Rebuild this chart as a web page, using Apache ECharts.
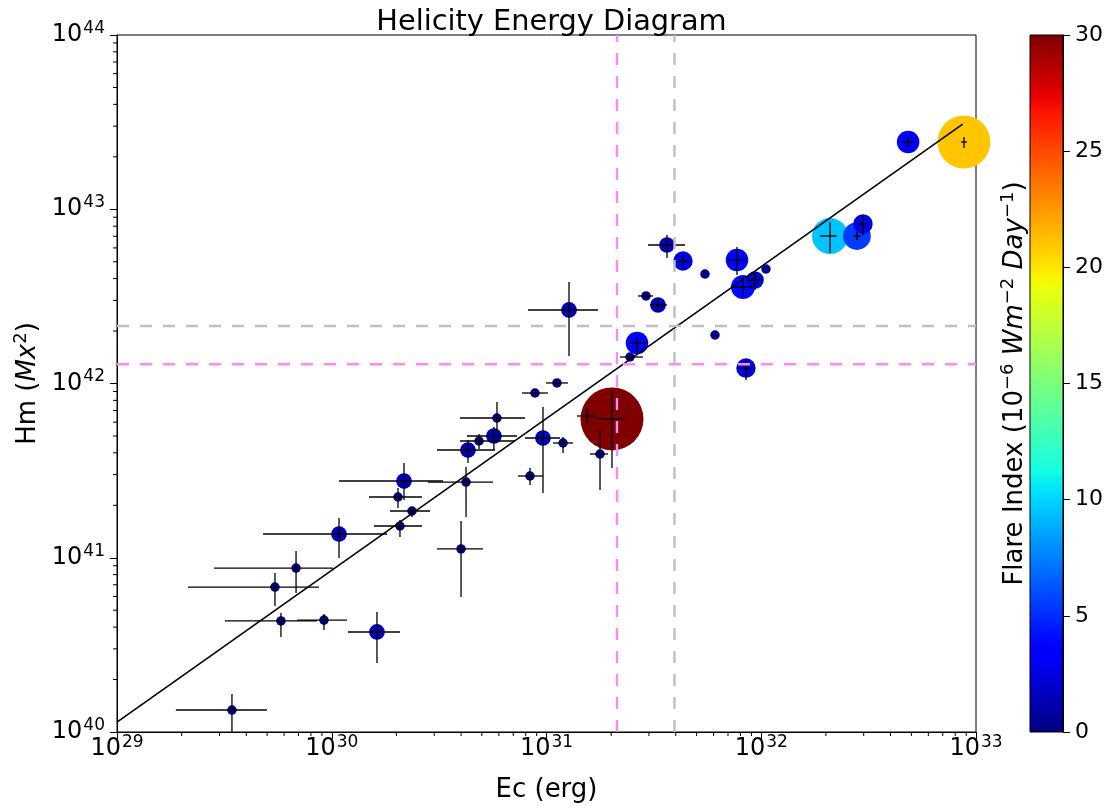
<!DOCTYPE html>
<html>
<head>
<meta charset="utf-8">
<script src="https://cdn.jsdelivr.net/npm/echarts/dist/echarts.min.js"></script>
<style>html,body{margin:0;padding:0;background:#fff}#c{width:1112px;height:808px}</style>
</head>
<body>
<div id="c"></div>
<script>
// ---- data ----
const ec   = [3.43e29,1.624e30,5.80e29,9.20e29,5.44e29,6.82e29,1.081e30,2.078e30,2.364e30,2.035e30,2.170e30,4.00e30,4.22e30,4.31e30,4.85e30,5.69e30,5.88e30,9.63e30,1.194e31,8.38e30,8.84e30,1.119e31,1.273e31,1.775e31,1.544e31,2.018e31,2.448e31,2.639e31,2.906e31,3.306e31,3.64e31,4.32e31,5.47e31,6.09e31,7.71e31,8.22e31,9.35e31,1.052e32,8.49e31,2.09e32,2.79e32,2.977e32,4.83e32,8.79e32];
const hm   = [1.337e40,3.75e40,4.34e40,4.39e40,6.79e40,8.73e40,1.369e41,1.521e41,1.855e41,2.232e41,2.757e41,1.123e41,2.72e41,4.153e41,4.677e41,4.996e41,6.34e41,4.866e41,4.555e41,2.946e41,8.82e41,1.007e42,2.642e42,3.94e41,6.51e41,6.26e41,1.419e42,1.708e42,3.179e42,2.822e42,6.235e42,5.047e42,4.25e42,1.898e42,5.115e42,3.579e42,3.926e42,4.54e42,1.227e42,7.02e42,7.02e42,8.23e42,2.432e43,2.432e43];
const ecLo = [1.88e29,1.19e30,3.18e29,6.89e29,2.14e29,2.83e29,4.79e29,1.573e30,1.867e30,1.491e30,1.081e30,3.091e30,2.807e30,3.091e30,3.956e30,4.265e30,3.956e30,7.94e30,1.072e31,7.37e30,7.69e30,9.95e30,8.20e30,1.594e31,1.387e31,1.719e31,2.199e31,2.448e31,2.668e31,3.034e31,2.97e31,4.053e31,5.47e31,6.09e31,6.93e31,7.39e31,8.58e31,1.052e32,7.79e31,1.877e32,2.675e32,2.82e32,4.52e32,8.51e32];
const ecHi = [4.99e29,2.078e30,8.54e29,1.178e30,8.72e29,1.013e30,1.808e30,2.632e30,2.868e30,2.632e30,3.297e30,5.06e30,5.64e30,5.76e30,7.13e30,7.29e30,7.94e30,1.156e31,1.329e31,9.63e30,1.016e31,1.259e31,1.737e31,1.934e31,1.719e31,2.32e31,2.814e31,2.97e31,3.133e31,3.64e31,4.416e31,4.658e31,5.47e31,6.09e31,8.58e31,9.15e31,1.019e32,1.052e32,9.35e31,2.253e32,2.914e32,3.107e32,5.20e32,9.08e32];
const hmLo = [0.98e40,2.49e40,3.51e40,3.85e40,5.29e40,6.28e40,9.97e40,1.315e41,1.713e41,1.930e41,2.145e41,5.95e40,1.713e41,3.499e41,4.208e41,4.153e41,5.20e41,2.353e41,3.99e41,2.616e41,8.48e41,9.68e41,1.438e42,2.448e41,5.78e41,3.274e41,1.364e42,1.516e42,3.096e42,2.572e42,5.252e42,4.662e42,4.25e42,1.898e42,4.195e42,3.137e42,3.44e42,4.54e42,1.047e42,5.61e42,6.66e42,7.115e42,2.276e43,2.247e43];
const hmHi = [1.652e40,4.88e40,4.82e40,4.76e40,8.18e40,1.093e41,1.691e41,1.647e41,1.955e41,2.514e41,3.499e41,1.625e41,3.318e41,4.739e41,5.13e41,5.63e41,7.83e41,7.33e41,4.93e41,3.274e41,9.18e41,1.047e42,3.824e42,5.41e41,7.23e41,9.18e41,1.477e42,1.824e42,3.263e42,3.096e42,7.115e42,5.463e42,4.25e42,1.898e42,6.073e42,4.085e42,4.364e42,4.54e42,1.364e42,8.45e42,7.40e42,9.27e42,2.598e43,2.598e43];
const flare = [0.3,1.5,0.3,0.3,0.3,0.3,1.5,0.3,0.3,0.3,1.5,0.3,0.3,1.5,0.3,1.5,0.3,1.5,0.3,0.3,0.3,0.3,1.5,0.3,0.3,30,0.3,3.5,0.3,1.5,1.5,2.5,0.3,0.3,3.5,4.0,2.0,0.3,2.5,9.5,5.5,2.5,3.5,21];

const fitEc = [1e29, 8.67e32];
const fitHm = [1.14e40, 3.08e43];

const vLineMagenta = 2.129e31, vLineGray = 3.945e31;
const hLineGray = 2.138e42, hLineMagenta = 1.289e42;

const xRange = [1e29, 1e33];
const yRange = [1e40, 1e44];
const cbTicks = [0, 5, 10, 15, 20, 25, 30];

// minor tick values (2..9 x 10^n)
function minorTicks(lo, hi){ const out=[]; for(let e=lo;e<hi;e++){ for(let m=2;m<=9;m++) out.push(m*Math.pow(10,e)); } return out; }
const minorX = minorTicks(29, 33);
const minorY = minorTicks(40, 44);

// ---- jet colormap (matplotlib segment data) ----
const JET = {
  r: [[0,0],[0.35,0],[0.66,1],[0.89,1],[1,0.5]],
  g: [[0,0],[0.125,0],[0.375,1],[0.64,1],[0.91,0],[1,0]],
  b: [[0,0.5],[0.11,1],[0.34,1],[0.65,0],[1,0]]
};
function interp(p,t){ for(let i=1;i<p.length;i++){ if(t<=p[i][0]){ const a=p[i-1],b=p[i]; return a[1]+(b[1]-a[1])*(t-a[0])/(b[0]-a[0]); } } return p[p.length-1][1]; }
function jet(t){ return 'rgb('+[JET.r,JET.g,JET.b].map(p=>Math.round(255*interp(p,t))).join(',')+')'; }
const NSTOP = 64;
const jetColors = Array.from({length:NSTOP+1},(_,i)=>jet(i/NSTOP));

const FONT = 'DejaVu Sans';
const supRich = {
  b: {fontFamily: FONT, fontSize: 24, lineHeight: 24, color: '#000', verticalAlign: 'bottom'},
  s: {fontFamily: FONT, fontSize: 17, lineHeight: 17, color: '#000', verticalAlign: 'bottom', padding: [0,0,10,1]}
};
function nameRich(fs){ return {
  n: {fontFamily: FONT, fontSize: fs, lineHeight: fs, color: '#000', verticalAlign: 'bottom'},
  i: {fontFamily: FONT, fontSize: fs, lineHeight: fs, color: '#000', fontStyle: 'italic', verticalAlign: 'bottom'},
  s: {fontFamily: FONT, fontSize: Math.round(fs*0.7), lineHeight: Math.round(fs*0.7), color: '#000', verticalAlign: 'bottom', padding: [0,0,Math.round(fs*0.42),0]}
}; }
function powLabel(v){ const e = Math.round(Math.log10(v)); return '{b|10}{s|' + e + '}'; }

const chart = echarts.init(document.getElementById('c'), null, {renderer: 'canvas'});

const axisCommon = {
  axisLine: {show: true, onZero: false, lineStyle: {color: '#000', width: 1}},
  axisTick: {show: true, inside: false, length: 7, lineStyle: {color: '#000', width: 1}},
  splitLine: {show: false}
};

const option = {
  animation: false,
  backgroundColor: '#fff',
  title: {
    text: 'Helicity Energy Diagram',
    left: 546.5, top: 3, textAlign: 'center',
    textStyle: {fontFamily: FONT, fontSize: 28.8, fontWeight: 'normal', color: '#000'}
  },
  grid: [
    {left: 117, top: 35, width: 859, height: 697, show: true, borderColor: '#000', borderWidth: 1, backgroundColor: 'transparent'},
    {left: 1030, top: 35, width: 33, height: 697, show: false}
  ],
  visualMap: [{
    show: false, type: 'continuous', min: 0, max: 30, dimension: 2, seriesIndex: 0,
    inRange: {color: jetColors}
  }],
  xAxis: [
    Object.assign({}, axisCommon, {
      gridIndex: 0, type: 'log', logBase: 10, min: xRange[0], max: xRange[1], splitNumber: 4,
      axisLabel: {formatter: powLabel, rich: supRich, margin: 5, showMinLabel: true, showMaxLabel: true},
      name: 'Ec (erg)', nameLocation: 'middle', nameGap: 45,
      nameTextStyle: {fontFamily: FONT, fontSize: 26, color: '#000'}
    }),
    {gridIndex: 1, type: 'value', min: 0, max: 1, show: false}
  ],
  yAxis: [
    Object.assign({}, axisCommon, {
      gridIndex: 0, type: 'log', logBase: 10, min: yRange[0], max: yRange[1], splitNumber: 4,
      axisLabel: {formatter: powLabel, rich: supRich, margin: 12, showMinLabel: true, showMaxLabel: true},
      name: '{n|Hm (}{i|Mx}{s|2}{n|)}', nameLocation: 'middle', nameGap: 72,
      nameTextStyle: {fontFamily: FONT, fontSize: 26, color: '#000', rich: nameRich(26)}
    }),
    Object.assign({}, axisCommon, {
      gridIndex: 1, type: 'value', min: 0, max: 30, interval: 5, position: 'right',
      axisLabel: {fontFamily: FONT, fontSize: 22, color: '#000', margin: 12,
        formatter: v => (cbTicks.indexOf(v) >= 0 ? String(v) : '')}
    }),
    {
      gridIndex: 1, type: 'value', min: 0, max: 30, position: 'left',
      axisLine: {show: false}, axisTick: {show: false}, axisLabel: {show: false}, splitLine: {show: false},
      name: '{n|Flare Index (10}{s|−6}{n| }{i|Wm}{s|−2}{n| }{i|Day}{s|−1}{n|)}',
      nameLocation: 'middle', nameGap: 2,
      nameTextStyle: {fontFamily: FONT, fontSize: 26, color: '#000', rich: nameRich(26)}
    }
  ],
  series: [
    {
      type: 'scatter', xAxisIndex: 0, yAxisIndex: 0, z: 2,
      data: ec.map((x,i) => [x, hm[i], flare[i]]),
      symbolSize: v => Math.sqrt(51 + 130.6 * v[2]),
      itemStyle: {opacity: 1},
      silent: true
    },
    {
      type: 'custom', xAxisIndex: 0, yAxisIndex: 0, z: 3, clip: true, silent: true,
      data: ec.map((x,i) => [x, hm[i], ecLo[i], ecHi[i], hmLo[i], hmHi[i]]),
      encode: {x: [0,2,3], y: [1,4,5]},
      renderItem: function(params, api){
        const c  = api.coord([api.value(0), api.value(1)]);
        const xl = api.coord([api.value(2), api.value(1)]);
        const xh = api.coord([api.value(3), api.value(1)]);
        const yl = api.coord([api.value(0), api.value(4)]);
        const yh = api.coord([api.value(0), api.value(5)]);
        const st = {stroke: '#000', lineWidth: 1.3};
        return {type: 'group', children: [
          {type: 'line', shape: {x1: xl[0], y1: c[1], x2: xh[0], y2: c[1]}, style: st},
          {type: 'line', shape: {x1: c[0], y1: yl[1], x2: c[0], y2: yh[1]}, style: st}
        ]};
      }
    },
    {
      type: 'line', xAxisIndex: 0, yAxisIndex: 0, z: 4, symbol: 'none', silent: true,
      data: fitEc.map((x,i) => [x, fitHm[i]]),
      lineStyle: {color: '#000', width: 1.6}
    },
    {
      type: 'line', xAxisIndex: 0, yAxisIndex: 0, z: 5, symbol: 'none', silent: true,
      data: [[vLineMagenta, yRange[0]], [vLineMagenta, yRange[1]]],
      lineStyle: {color: '#f98bf9', width: 2.4, type: [12, 11]}
    },
    {
      type: 'line', xAxisIndex: 0, yAxisIndex: 0, z: 5, symbol: 'none', silent: true,
      data: [[vLineGray, yRange[0]], [vLineGray, yRange[1]]],
      lineStyle: {color: '#bfbfbf', width: 2.4, type: [12, 11]}
    },
    {
      type: 'line', xAxisIndex: 0, yAxisIndex: 0, z: 5, symbol: 'none', silent: true,
      data: [[xRange[0], hLineGray], [xRange[1], hLineGray]],
      lineStyle: {color: '#bfbfbf', width: 2.4, type: [12, 11]}
    },
    {
      type: 'line', xAxisIndex: 0, yAxisIndex: 0, z: 5, symbol: 'none', silent: true,
      data: [[xRange[0], hLineMagenta], [xRange[1], hLineMagenta]],
      lineStyle: {color: '#f98bf9', width: 2.4, type: [12, 11]}
    },
    {
      type: 'custom', xAxisIndex: 0, yAxisIndex: 0, z: 6, clip: false, silent: true,
      data: minorX.map(v => [v]), encode: {x: 0},
      renderItem: function(params, api){
        const p = api.coord([api.value(0), yRange[0]]);
        return {type: 'line', shape: {x1: p[0], y1: p[1], x2: p[0], y2: p[1] + 4}, style: {stroke: '#000', lineWidth: 1}};
      }
    },
    {
      type: 'custom', xAxisIndex: 0, yAxisIndex: 0, z: 6, clip: false, silent: true,
      data: minorY.map(v => [v]), encode: {y: 0},
      renderItem: function(params, api){
        const p = api.coord([xRange[0], api.value(0)]);
        return {type: 'line', shape: {x1: p[0] - 4, y1: p[1], x2: p[0], y2: p[1]}, style: {stroke: '#000', lineWidth: 1}};
      }
    },
    {
      type: 'custom', xAxisIndex: 1, yAxisIndex: 1, z: 2, clip: false, silent: true,
      data: [[0, 0, 1, 30]], encode: {x: [0,2], y: [1,3]},
      renderItem: function(params, api){
        const p0 = api.coord([api.value(0), api.value(1)]);
        const p1 = api.coord([api.value(2), api.value(3)]);
        return {type: 'rect',
          shape: {x: p0[0], y: p1[1], width: p1[0] - p0[0], height: p0[1] - p1[1]},
          style: {
            fill: new echarts.graphic.LinearGradient(0, 1, 0, 0, jetColors.map((c,i) => ({offset: i/NSTOP, color: c}))),
            stroke: '#000', lineWidth: 1
          }};
      }
    }
  ]
};
chart.setOption(option);
</script>
</body>
</html>
